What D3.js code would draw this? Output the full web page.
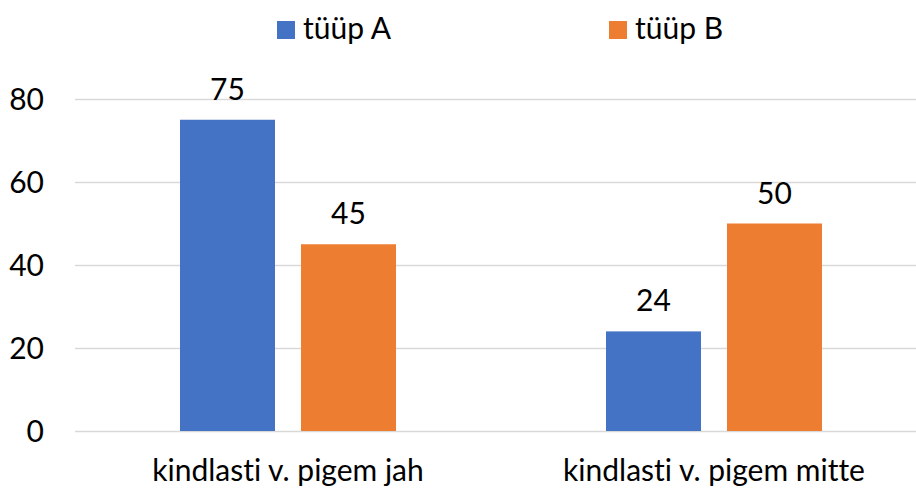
<!DOCTYPE html>
<html>
<head>
<meta charset="utf-8">
<script src="https://cdn.jsdelivr.net/npm/d3@7"></script>
<style>
  body { margin: 0; background: #fff; }
  text { font-family: Lato, "Open Sans", sans-serif; fill: #000; font-variant-ligatures: none; font-feature-settings: "liga" 0, "clig" 0; }
</style>
</head>
<body>
<div id="chart"></div>
<script>
// ----- data -----
var categories = ["kindlasti v. pigem jah", "kindlasti v. pigem mitte"];
var seriesNames = ["tüüp A", "tüüp B"];
var valuesA = [75, 24];
var valuesB = [45, 50];
var yTicks = [0, 20, 40, 60, 80];
var colors = ["#4472C4", "#ED7D31"];

// ----- canvas -----
var svgWidth = 916, svgHeight = 489;
var margin = {left: 75, top: 99, bottom: 58};
var plotRight = 927; // plot area runs past the right edge in the original
var fontSize = 30;

var svg = d3.select("#chart").append("svg")
  .attr("width", svgWidth)
  .attr("height", svgHeight);

// ----- scales -----
var yScale = d3.scaleLinear()
  .domain([0, 80])
  .range([svgHeight - margin.bottom, margin.top]);

var x0 = d3.scaleBand()
  .domain(categories)
  .range([margin.left, plotRight])
  .paddingInner(210 / 426)
  .paddingOuter(105 / 426);

var x1 = d3.scaleBand()
  .domain(seriesNames)
  .range([0, x0.bandwidth()])
  .paddingInner(26 / 121);

// ----- gridlines -----
svg.append("g").selectAll("line")
  .data(yTicks)
  .enter().append("line")
    .attr("x1", margin.left)
    .attr("x2", plotRight)
    .attr("y1", d => Math.round(yScale(d)) + 0.5)
    .attr("y2", d => Math.round(yScale(d)) + 0.5)
    .attr("stroke", "#d9d9d9")
    .attr("stroke-width", 1.5);

// y tick labels
svg.append("g").selectAll("text")
  .data(yTicks)
  .enter().append("text")
    .attr("x", 44)
    .attr("y", d => yScale(d))
    .attr("dy", "0.35em")
    .attr("text-anchor", "end")
    .style("font-size", fontSize + "px")
    .text(d => d);

// ----- bars -----
var rows = categories.map((c, i) => ({
  cat: c,
  vals: [
    {name: seriesNames[0], value: valuesA[i], color: colors[0]},
    {name: seriesNames[1], value: valuesB[i], color: colors[1]}
  ]
}));

var groups = svg.append("g").selectAll("g")
  .data(rows)
  .enter().append("g")
    .attr("transform", d => `translate(${x0(d.cat)},0)`);

groups.selectAll("rect")
  .data(d => d.vals)
  .enter().append("rect")
    .attr("x", d => x1(d.name))
    .attr("y", d => yScale(d.value))
    .attr("width", x1.bandwidth())
    .attr("height", d => yScale(0) - yScale(d.value))
    .attr("fill", d => d.color);

// value labels
groups.selectAll("text")
  .data(d => d.vals)
  .enter().append("text")
    .attr("x", d => x1(d.name) + x1.bandwidth() / 2)
    .attr("y", d => yScale(d.value) - 20)
    .attr("text-anchor", "middle")
    .style("font-size", fontSize + "px")
    .text(d => d.value);

// category labels
svg.append("g").selectAll("text")
  .data(categories)
  .enter().append("text")
    .attr("x", d => x0(d) + x0.bandwidth() / 2)
    .attr("y", 481)
    .attr("text-anchor", "middle")
    .style("font-size", fontSize + "px")
    .text(d => d);

// ----- legend -----
var legendX = [277, 609];
var legend = svg.append("g").selectAll("g")
  .data(seriesNames)
  .enter().append("g")
    .attr("transform", (d, i) => `translate(${legendX[i]},21)`);

legend.append("rect")
  .attr("width", 18)
  .attr("height", 18)
  .attr("fill", (d, i) => colors[i]);

legend.append("text")
  .attr("x", 26)
  .attr("y", 18)
  .style("font-size", fontSize + "px")
  .text(d => d);
</script>
</body>
</html>
